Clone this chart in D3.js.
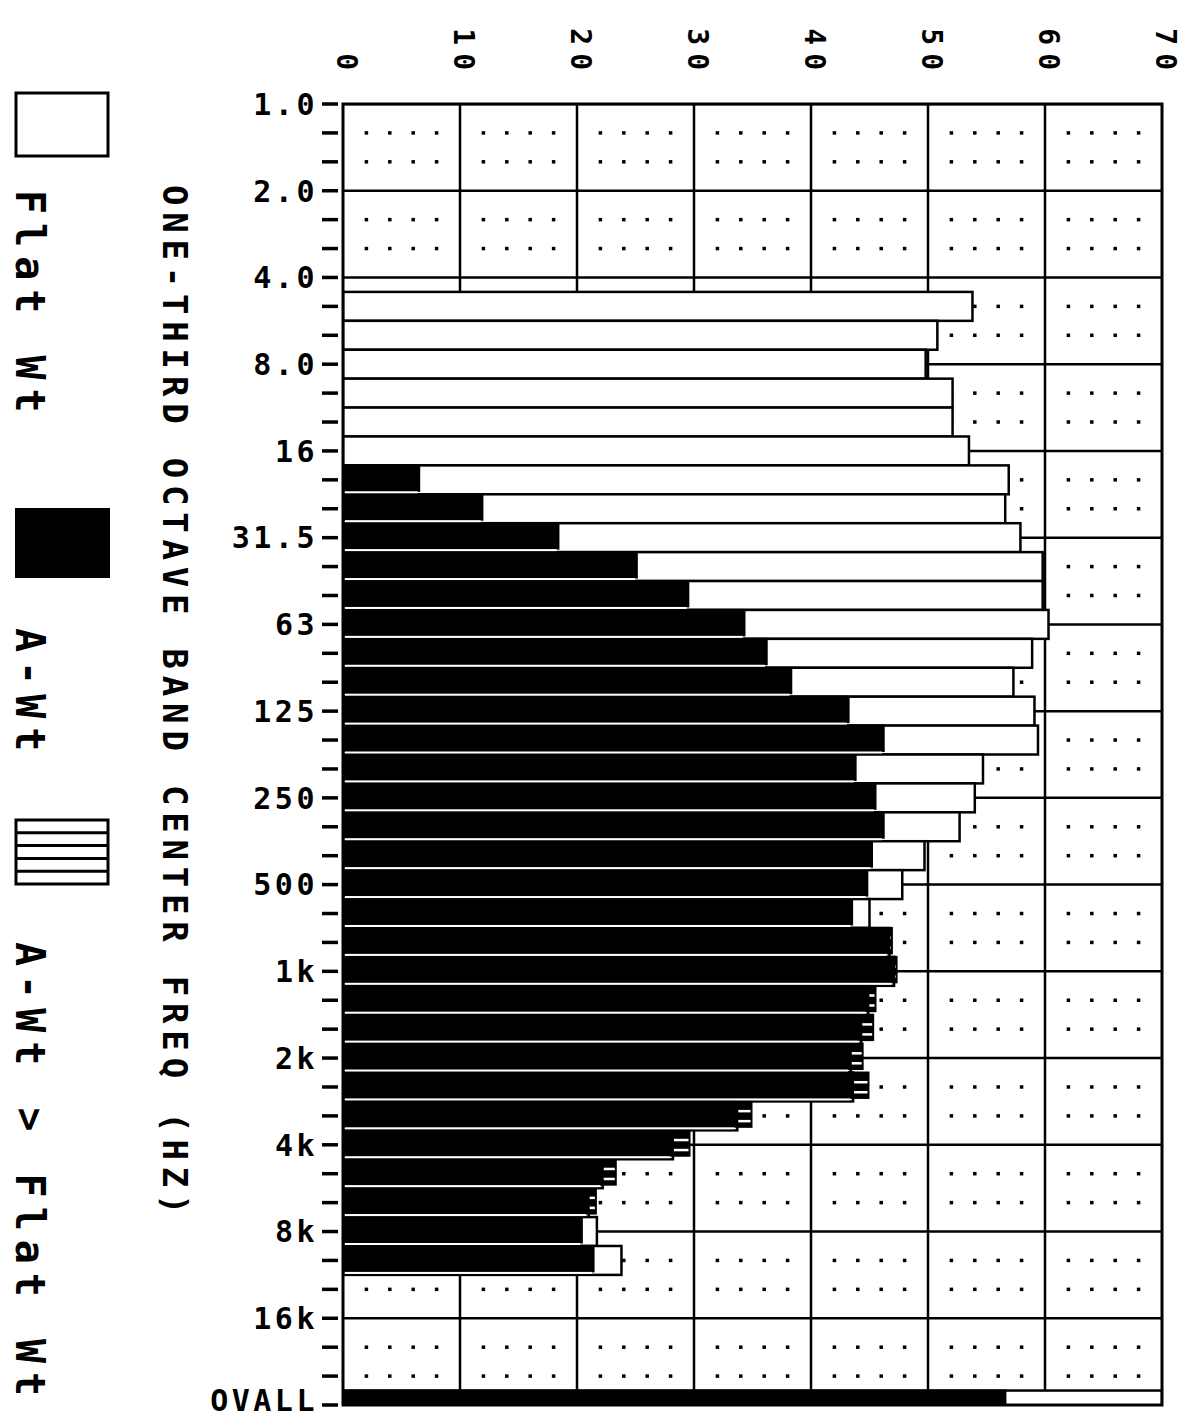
<!DOCTYPE html>
<html>
<head>
<meta charset="utf-8">
<script src="https://cdn.jsdelivr.net/npm/d3@7"></script>
<style>
  body { margin: 0; background: #fff; }
  text { font-family: "DejaVu Sans Mono", monospace; font-weight: bold; fill: #000; }
</style>
</head>
<body>
<svg id="chart" width="1190" height="1419"></svg>
<script>
// every tick row on the frequency axis (one-third octave bands)
var bands = ["1.0","1.25","1.6","2.0","2.5","3.15","4.0","5.0","6.3","8.0","10","12.5",
  "16","20","25","31.5","40","50","63","80","100","125","160","200","250","315","400",
  "500","630","800","1k","1.25k","1.6k","2k","2.5k","3.15k","4k","5k","6.3k","8k",
  "10k","12.5k","16k","20k","25k","OVALL"];
// rows that carry a printed label (octave steps)
var labelBands = ["1.0","2.0","4.0","8.0","16","31.5","63","125","250","500","1k","2k",
  "4k","8k","16k","OVALL"];
var levelTicks = [0, 10, 20, 30, 40, 50, 60, 70];

// measured bands and their levels (dB)
var barBands = ["5.0","6.3","8.0","10","12.5","16","20","25","31.5","40","50","63","80",
  "100","125","160","200","250","315","400","500","630","800","1k","1.25k","1.6k","2k",
  "2.5k","3.15k","4k","5k","6.3k","8k","10k","OVALL"];
var flatWt = [53.8, 50.8, 49.8, 52.1, 52.1, 53.5, 56.9, 56.6, 57.9, 59.8, 59.8, 60.3, 58.9,
  57.3, 59.1, 59.4, 54.7, 54.0, 52.7, 49.7, 47.8, 45.0, 46.7, 47.1, 44.9, 44.3, 43.4,
  43.6, 33.7, 28.2, 22.2, 21.0, 21.7, 23.8, 70.0];
var aWt = [null, null, null, null, null, null, 6.6, 12.0, 18.5, 25.2, 29.6, 34.4, 36.3,
  38.4, 43.3, 46.3, 43.9, 45.6, 46.3, 45.3, 44.9, 43.6, 47.0, 47.4, 45.6, 45.4, 44.5,
  45.0, 35.0, 29.7, 23.4, 21.7, 20.5, 21.5, 56.7];

var legendNames = ["Flat Wt", "A-Wt", "A-Wt > Flat Wt"];

var svg = d3.select("#chart");
var plotL = 343, plotR = 1162, plotT = 104, plotB = 1405;

var x = d3.scaleLinear().domain([0, 70]).range([plotL, plotR]);
var y = d3.scalePoint().domain(bands).range([plotT, plotB]);
var step = y.step();

svg.append("rect").attr("width", 1190).attr("height", 1419).attr("fill", "#fff");

svg.append("clipPath").attr("id", "plotclip")
  .append("rect").attr("x", plotL).attr("y", plotT).attr("width", plotR - plotL).attr("height", plotB - plotT);

var plot = svg.append("g").attr("clip-path", "url(#plotclip)");

// dotted grid on the minor rows, solid on octave rows and every 10 dB
var octave = function(b){ return labelBands.indexOf(b) >= 0; };
var dotX = d3.range(2, 70, 2).filter(function(v){ return v % 10 != 0; });
bands.filter(function(b){ return !octave(b); }).forEach(function(b){
  plot.selectAll(null).data(dotX).enter().append("rect")
    .attr("x", function(d){ return x(d) - 1.75; })
    .attr("y", y(b) - 1.75)
    .attr("width", 3.5).attr("height", 3.5).attr("fill", "#000");
});
plot.selectAll(".hgrid").data(labelBands).enter().append("line")
  .attr("x1", plotL).attr("x2", plotR)
  .attr("y1", function(d){ return y(d); }).attr("y2", function(d){ return y(d); })
  .attr("stroke", "#000").attr("stroke-width", 2.5);
plot.selectAll(".vgrid").data(levelTicks.slice(1, -1)).enter().append("line")
  .attr("x1", function(d){ return x(d); }).attr("x2", function(d){ return x(d); })
  .attr("y1", plotT).attr("y2", plotB)
  .attr("stroke", "#000").attr("stroke-width", 2.5);

// flat weighted bars (white, outlined)
var rows = barBands.map(function(b, i){ return {band: b, flat: flatWt[i], a: aWt[i]}; });
plot.selectAll(".flat").data(rows).enter().append("rect")
  .attr("x", x(0))
  .attr("y", function(d){ return y(d.band) - step / 2; })
  .attr("width", function(d){ return x(d.flat) - x(0); })
  .attr("height", step)
  .attr("fill", "#fff").attr("stroke", "#000").attr("stroke-width", 2.5);

// A weighted bars (solid black)
var aRows = rows.filter(function(d){ return d.a != null; });
plot.selectAll(".awt").data(aRows).enter().append("rect")
  .attr("x", x(0))
  .attr("y", function(d){ return y(d.band) - step / 2 - 1; })
  .attr("width", function(d){ return x(d.a) - x(0); })
  .attr("height", step - 1.5)
  .attr("fill", "#000");
plot.selectAll(".agap").data(aRows).enter().append("rect")
  .attr("x", x(0) + 2)
  .attr("y", function(d){ return y(d.band) + step / 2 - 3; })
  .attr("width", function(d){ return Math.max(0, Math.min(d.a, d.flat) - 0.4) * (x(1) - x(0)); })
  .attr("height", 2)
  .attr("fill", "#fff");

// where A-Wt exceeds Flat Wt: striped part
aRows.filter(function(d){ return d.a > d.flat; }).forEach(function(d){
  [-6, 4].forEach(function(off){
    plot.append("rect")
      .attr("x", x(d.flat) + 1).attr("y", y(d.band) + off)
      .attr("width", Math.max(0, x(d.a) - x(d.flat) - 3)).attr("height", 2.5)
      .attr("fill", "#fff");
  });
});

// frame
svg.append("rect").attr("x", plotL).attr("y", plotT)
  .attr("width", plotR - plotL).attr("height", plotB - plotT)
  .attr("fill", "none").attr("stroke", "#000").attr("stroke-width", 3);

// frequency axis: dashes on every row, labels on octaves
svg.selectAll(".ytick").data(bands).enter().append("line")
  .attr("x1", 322).attr("x2", 338)
  .attr("y1", function(d){ return y(d); }).attr("y2", function(d){ return y(d); })
  .attr("stroke", "#000").attr("stroke-width", 3.5);
svg.selectAll(".ylab").data(labelBands).enter().append("text")
  .attr("x", 318).attr("y", function(d){ return d == "OVALL" ? y(d) - 5 : y(d); })
  .attr("dy", "0.36em")
  .attr("text-anchor", "end")
  .attr("font-size", 30).attr("letter-spacing", 3.5)
  .text(function(d){ return d; });

// level axis labels along the top, turned a quarter
svg.selectAll(".xlab").data(levelTicks).enter().append("text")
  .attr("transform", function(d){ return "translate(" + (x(d) - 6) + ",78) rotate(90)"; })
  .attr("text-anchor", "end")
  .attr("font-size", 28).attr("letter-spacing", 8)
  .text(function(d){ return d; });

// axis title
svg.append("text")
  .attr("transform", "translate(163,185) rotate(90)")
  .attr("font-size", 34).attr("letter-spacing", 6.8)
  .text("ONE-THIRD OCTAVE BAND CENTER FREQ (HZ)");

// legend
svg.append("rect").attr("x", 16).attr("y", 93).attr("width", 92).attr("height", 63)
  .attr("fill", "#fff").attr("stroke", "#000").attr("stroke-width", 3);
svg.append("rect").attr("x", 15).attr("y", 508).attr("width", 95).attr("height", 70)
  .attr("fill", "#000");
svg.append("rect").attr("x", 16).attr("y", 820).attr("width", 92).attr("height", 64)
  .attr("fill", "#fff").attr("stroke", "#000").attr("stroke-width", 3);
svg.selectAll(".lstripe").data(d3.range(1, 5)).enter().append("line")
  .attr("x1", 16).attr("x2", 108)
  .attr("y1", function(d){ return 820 + d * 12.8; })
  .attr("y2", function(d){ return 820 + d * 12.8; })
  .attr("stroke", "#000").attr("stroke-width", 3);
var legendY = [190, 628, 942];
svg.selectAll(".ltext").data(legendNames).enter().append("text")
  .attr("transform", function(d, i){ return "translate(16," + legendY[i] + ") rotate(90)"; })
  .attr("font-size", 40).attr("letter-spacing", 9)
  .text(function(d){ return d; });
</script>
</body>
</html>
